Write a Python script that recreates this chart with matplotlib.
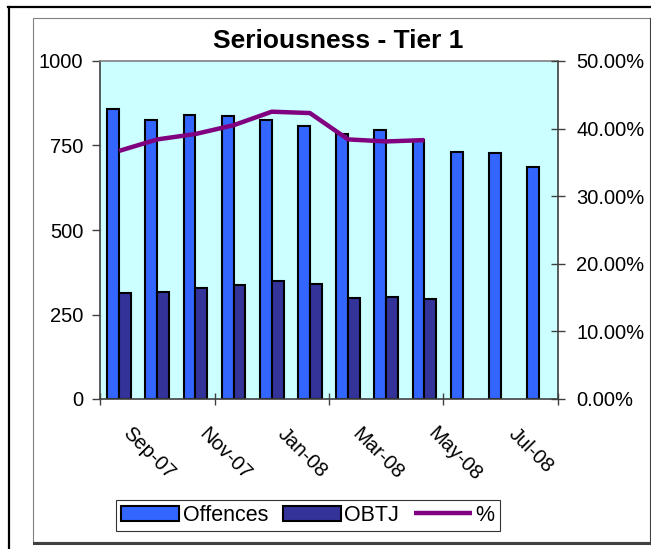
import numpy as np
import matplotlib.pyplot as plt
from matplotlib.patches import Rectangle
from matplotlib.lines import Line2D
from matplotlib.ticker import PercentFormatter
from matplotlib.transforms import ScaledTranslation

plt.rcParams['font.family'] = ['Liberation Sans', 'DejaVu Sans']

months = ['Aug-07', 'Sep-07', 'Oct-07', 'Nov-07', 'Dec-07', 'Jan-08',
          'Feb-08', 'Mar-08', 'Apr-08', 'May-08', 'Jun-08', 'Jul-08']
offences = [857, 825, 839, 837, 825, 808, 784, 795, 766, 731, 727, 687]
obtj = [314, 316, 328, 338, 350, 340, 300, 302, 296]
pct = [0.367, 0.384, 0.392, 0.405, 0.425, 0.423, 0.384, 0.381, 0.383]

fig = plt.figure(figsize=(6.51, 5.49), dpi=100)

# page frame and chart area (with Excel style shadow)
W, H = 651, 549
fig.add_artist(Line2D([8/W, 1], [1-7/H, 1-7/H], color='black', lw=1.6, zorder=-5))
fig.add_artist(Line2D([9/W, 9/W], [0, 1-7/H], color='black', lw=1.6, zorder=-5))
fig.add_artist(Rectangle((33/W, 1-542/H), (650-33)/W, (542-18)/H,
                         facecolor='white', edgecolor='#808080', lw=0.8, zorder=-10))
fig.add_artist(Line2D([34/W, 651/W], [1-542.5/H, 1-542.5/H], color='#404040', lw=2.2, zorder=-5))
fig.add_artist(Line2D([650.5/W, 650.5/W], [1-542/H, 1-19/H], color='#404040', lw=2.2, zorder=-5))

ax = fig.add_axes([100/W, 1-399/H, (558-100)/W, (399-61)/H])
ax.set_facecolor('#CCFFFF')

x = np.arange(len(months))
bw = 0.31
ax.bar(x - bw/2, offences, bw, color='#3366FF', edgecolor='black', lw=1.5,
       label='Offences', zorder=2)
ax.bar(x[:len(obtj)] + bw/2, obtj, bw, color='#333399', edgecolor='black', lw=1.5,
       label='OBTJ', zorder=2)

ax.set_xlim(-0.5, len(months) - 0.5)
ax.set_ylim(0, 1000)
ax.set_yticks([0, 250, 500, 750, 1000])
ax.set_xticks(x[1::2], months[1::2])
ax.set_xticks([-0.5, 2.5, 5.5, 8.5, 11.5], minor=True)
ax.tick_params(axis='x', which='major', length=0, pad=18, labelsize=14.5,
               labelrotation=-45)
shift = ScaledTranslation(-0.08, 0, fig.dpi_scale_trans)
for lab in ax.get_xticklabels():
    lab.set_ha('center')
    lab.set_transform(lab.get_transform() + shift)
ax.tick_params(axis='x', which='minor', direction='inout', length=9, width=1,
               color='#404040')
ax.tick_params(axis='y', direction='out', length=6, width=1, pad=6,
               labelsize=14.5, color='#404040')

for s in ['left', 'bottom', 'right']:
    ax.spines[s].set_color('#404040')
    ax.spines[s].set_linewidth(1.2)
ax.spines['top'].set_color('#808080')
ax.spines['top'].set_linewidth(1.2)

ax2 = ax.twinx()
ax2.plot(x[:len(pct)], pct, color='#800080', lw=3.2, label='%', zorder=3,
         solid_capstyle='butt')
ax2.set_ylim(0, 0.5)
ax2.set_yticks([0, 0.1, 0.2, 0.3, 0.4, 0.5])
ax2.yaxis.set_major_formatter(PercentFormatter(1.0, decimals=2))
ax2.tick_params(axis='y', direction='inout', length=10, width=1, pad=8,
                labelsize=14.5, color='#404040')
for s in ax2.spines.values():
    s.set_visible(False)

fig.text(338/W, 1-41/H, 'Seriousness - Tier 1', ha='center', va='center',
         fontsize=19, fontweight='bold')

h1, l1 = ax.get_legend_handles_labels()
h2, l2 = ax2.get_legend_handles_labels()
leg = fig.legend(h1 + h2, l1 + l2, loc='center', bbox_to_anchor=(308/W, 1-515.5/H),
                 ncol=3, fontsize=15.5, frameon=True, fancybox=False,
                 edgecolor='black', handlelength=2.7, handletextpad=0.15,
                 columnspacing=0.7, borderpad=0.25, borderaxespad=0)
leg.get_frame().set_linewidth(0.8)

fig.savefig('out.png', dpi=100)
